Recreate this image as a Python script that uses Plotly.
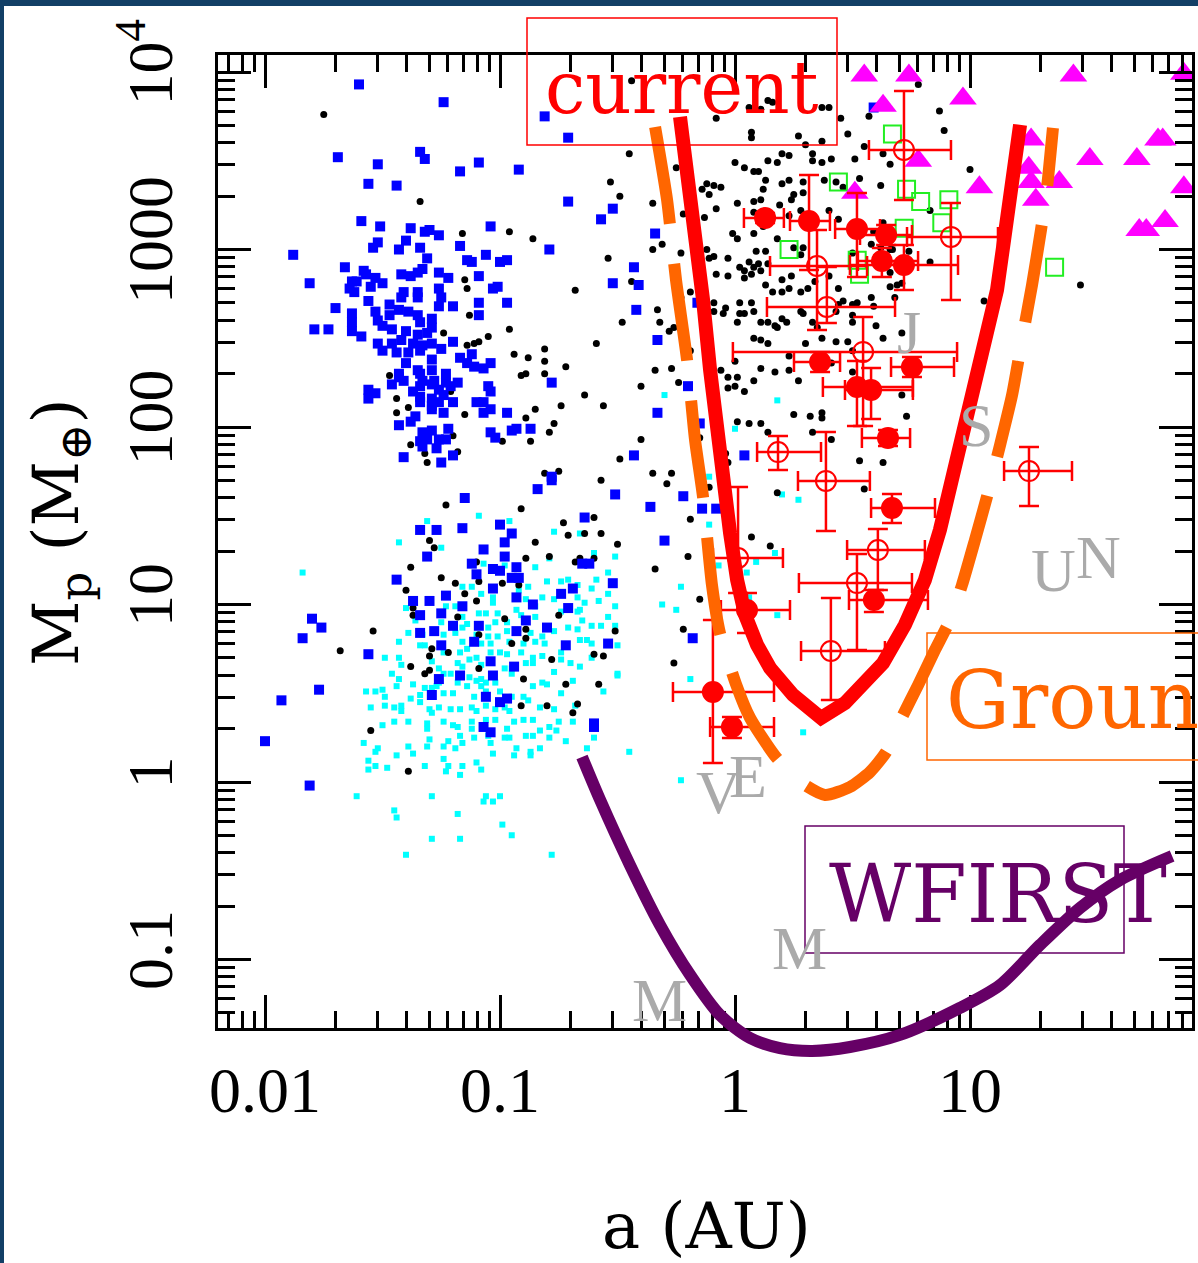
import numpy as np
import plotly.graph_objects as go

W, H = 1198, 1263

# ---------------- data ----------------
# all scatter values are (log10 a [AU], log10 Mp [M_earth])
rv_planets = [
    (-1.75, 3.76), (-1.34, 3.27), (-1.16, 3.09), (-0.96, 3.10), (-0.86, 3.06), (-1.15, 2.83), (-1.14, 2.78),
    (-1.13, 2.63), (-0.96, 2.55), (-1.24, 2.53), (-1.14, 2.46), (-1.11, 2.47), (-1.09, 2.48), (-1.05, 2.51),
    (-0.94, 2.41), (-0.88, 2.39), (-0.81, 2.44), (-0.81, 2.37), (-0.72, 2.34), (-0.91, 2.29), (-0.89, 2.30),
    (-0.81, 2.30), (-1.47, 2.29), (-1.21, 2.20), (-1.44, 2.16), (-1.39, 2.11), (-1.44, 2.08), (-1.15, 2.07),
    (-0.85, 2.10), (-0.89, 2.05), (-0.74, 2.12), (-0.77, 2.02), (-0.79, 1.97), (-1.20, 1.95), (-0.99, 1.92),
    (-0.87, 1.92), (-1.38, 1.90), (-1.32, 1.85), (-1.18, 1.86), (-1.31, 1.80), (-0.81, 1.74), (-0.75, 1.75),
    (-1.23, 1.56), (-0.91, 1.54), (-0.73, 1.46), (-0.60, 1.49), (-0.64, 1.40), (-0.57, 1.40), (-0.71, 1.39),
    (-0.50, 1.34), (-1.30, 1.36), (-1.28, 1.32), (-0.85, 1.35), (-1.38, 1.21), (-1.25, 1.15), (-1.19, 1.12),
    (-1.09, 1.13), (-0.92, 1.11), (-0.79, 1.27), (-0.66, 1.26), (-0.60, 1.26), (-0.68, 1.24), (-0.89, 1.26),
    (-1.10, 1.24), (-1.40, 1.08), (-1.15, 1.06), (-1.10, 1.02), (-0.99, 1.12), (-1.37, 0.98), (-1.37, 0.94),
    (-1.18, 0.93), (-0.98, 0.92), (-0.89, 0.86), (-0.75, 0.94), (-0.51, 0.85), (-1.54, 0.85), (-1.29, 0.75),
    (-1.30, 0.71), (-1.22, 0.73), (-1.09, 0.83), (-0.95, 0.78), (-0.89, 0.81), (-0.78, 0.69), (-0.60, 0.72),
    (-0.56, 0.71), (-1.38, 0.65), (-1.32, 0.61), (-1.30, 0.63), (-1.09, 0.64), (-0.90, 0.58), (-0.72, 0.55),
    (-0.58, 0.55), (-1.68, 0.74), (-0.91, 0.43), (-0.80, 0.43), (-0.67, 0.44), (-0.69, 0.39), (-1.55, 0.29),
    (-1.39, 0.06),
    (-0.44, 3.95), (0.14, 3.84), (0.16, 3.83), (0.11, 3.79), (0.06, 3.80), (0.37, 3.80), (0.40, 3.80),
    (-0.08, 3.74), (0.07, 3.66), (0.07, 3.63), (0.27, 3.64), (0.30, 3.59), (0.37, 3.61), (0.45, 3.74),
    (0.48, 3.65), (0.57, 3.75), (0.55, 3.58), (0.63, 3.54), (0.66, 3.48), (0.51, 3.51), (0.33, 3.54),
    (0.33, 3.50), (0.37, 3.49), (0.41, 3.51), (0.23, 3.53), (0.20, 3.54), (0.18, 3.49), (0.14, 3.50),
    (0.00, 3.49), (0.04, 3.46), (0.08, 3.44), (0.10, 3.44), (0.13, 3.39), (0.12, 3.34), (0.20, 3.37),
    (0.23, 3.39), (0.29, 3.38), (0.29, 3.32), (0.38, 3.39), (0.43, 3.38), (0.46, 3.35), (0.53, 3.40),
    (0.62, 3.36), (-0.45, 3.54), (-0.25, 3.46), (-0.53, 3.38), (-0.49, 3.30), (-0.12, 3.37), (-0.14, 3.34),
    (-0.09, 3.36), (-0.06, 3.35), (-0.11, 3.31),
    (-0.35, 3.26), (-0.22, 3.20), (-0.31, 3.03), (-0.35, 3.00), (-0.23, 2.98), (-0.54, 2.95), (-0.44, 2.82),
    (-0.33, 2.66), (-0.48, 2.59), (-0.08, 3.23), (-0.13, 3.18), (0.11, 3.28), (0.08, 3.27), (0.25, 3.31),
    (0.24, 3.28), (0.28, 3.22), (0.01, 3.26), (0.08, 3.21), (0.19, 3.25), (0.23, 3.19), (0.40, 3.22),
    (0.44, 3.17), (0.63, 3.15), (-0.01, 3.09), (0.01, 3.06), (0.08, 3.09), (0.12, 3.13), (0.18, 3.06),
    (0.25, 3.01), (0.29, 3.01), (0.28, 2.97), (0.09, 2.99), (0.13, 2.99), (-0.12, 3.00), (-0.09, 2.96),
    (-0.11, 2.95), (-0.08, 2.86), (-0.03, 2.95), (-0.03, 2.85), (0.02, 2.90), (0.04, 2.88), (0.06, 2.93),
    (0.08, 2.90), (0.07, 2.86), (0.04, 2.84), (0.10, 2.92), (0.11, 2.88), (0.14, 2.92), (0.13, 2.80),
    (0.16, 2.76), (0.20, 2.76), (0.23, 2.78), (0.20, 2.83), (0.24, 2.85), (0.28, 2.76), (0.31, 2.78),
    (0.34, 2.82), (0.40, 2.85), (0.44, 2.78), (0.46, 2.71), (0.50, 2.69), (0.52, 2.70), (0.58, 2.73),
    (0.59, 2.68), (0.66, 3.00), (0.62, 3.01), (0.66, 2.79), (0.69, 2.80), (0.68, 2.73), (-0.19, 2.76),
    (-0.09, 2.70), (-0.09, 2.65), (-0.04, 2.67), (0.02, 2.70), (0.07, 2.70), (0.04, 2.64), (0.08, 2.65),
    (0.11, 2.59), (0.14, 2.59), (0.18, 2.56), (0.22, 2.59), (0.28, 2.65), (0.33, 2.59), (-0.32, 2.59),
    (-0.26, 2.56), (-0.23, 2.73), (-0.05, 2.64), (0.44, 2.69), (0.50, 2.59), (0.60, 2.57),
    (0.78, 3.93), (0.87, 3.78), (0.89, 3.67), (1.00, 3.45), (0.83, 3.22), (0.59, 3.10), (0.58, 3.03),
    (0.67, 3.00), (0.74, 2.99), (0.50, 2.98), (0.83, 2.93), (0.66, 2.87), (0.71, 2.81), (1.47, 2.80),
    (1.06, 2.71),
    (-0.28, 2.54), (-0.27, 2.33), (-0.34, 2.32), (-0.24, 2.25), (-0.19, 2.43), (-0.15, 1.94), (-0.35, 1.74),
    (-0.27, 1.74), (-0.29, 1.68), (-0.11, 1.66), (-0.03, 1.80), (-0.04, 1.85), (0.18, 1.63), (-0.20, 1.27),
    (-0.34, 1.20), (-0.22, 0.86), (-0.26, 0.67), (0.07, 1.38), (0.15, 1.33), (0.01, 2.03), (0.06, 2.02),
    (0.11, 2.02), (0.14, 1.97), (0.25, 2.07), (0.32, 2.06), (0.37, 2.08), (0.37, 2.05), (0.33, 1.97),
    (0.41, 1.93), (0.53, 1.81), (0.63, 1.80), (0.55, 1.65), (0.73, 2.06), (0.71, 2.53), (0.63, 2.50),
    (0.50, 2.63), (0.43, 2.65), (0.29, 2.64), (0.35, 2.56), (0.14, 2.47), (0.20, 2.61), (0.11, 2.49),
    (0.08, 2.50), (0.17, 2.57), (0.02, 2.64), (0.01, 2.59), (-0.06, 2.32), (0.01, 2.28), (-0.03, 2.28),
    (0.00, 2.37), (-0.03, 2.22), (0.00, 2.23), (0.04, 2.20), (0.08, 2.26), (0.11, 2.33), (0.17, 2.31),
    (0.23, 2.32), (0.27, 2.26), (0.23, 2.40), (0.30, 2.47), (0.37, 2.50), (0.43, 2.48), (0.48, 2.48),
    (0.50, 2.31), (0.50, 2.43), (0.41, 2.36), (0.36, 2.39), (0.71, 2.18),
    (-0.68, 2.77), (-0.59, 2.47), (-0.64, 2.18), (-0.56, 2.12), (-0.40, 2.23), (-0.49, 1.82), (-0.40, 1.93),
    (-0.57, 1.70), (-0.15, 1.03), (-0.19, 1.48),
]

transit_planets = [  # blue squares
    (-1.60, 3.93), (-1.69, 3.52), (-1.52, 3.48), (-1.32, 3.51), (-1.34, 3.55), (-1.09, 3.49), (-1.17, 3.44),
    (-0.92, 3.45), (-1.24, 3.83), (-0.81, 3.75), (-0.71, 3.63), (-1.56, 3.37), (-1.44, 3.36), (-0.71, 3.27),
    (-1.59, 3.16), (-1.51, 3.13), (-1.38, 3.12), (-1.32, 3.10), (-1.30, 3.11), (-1.26, 3.08), (-1.04, 3.13),
    (-1.40, 3.05), (-1.52, 3.04), (-1.54, 3.01), (-1.43, 3.00), (-1.34, 3.01), (-1.17, 3.02), (-0.79, 3.00),
    (-1.88, 2.97), (-1.31, 2.95), (-1.14, 2.94), (-1.12, 2.93), (-1.06, 2.97), (-1.00, 2.93), (-0.97, 2.94),
    (-1.66, 2.90), (-1.58, 2.88), (-1.57, 2.86), (-1.42, 2.86), (-1.38, 2.85), (-1.35, 2.87), (-1.33, 2.89),
    (-1.26, 2.87), (-1.22, 2.84), (-1.09, 2.85), (-1.81, 2.81), (-1.63, 2.82), (-1.61, 2.82), (-1.53, 2.84),
    (-1.50, 2.81), (-1.55, 2.79), (-1.64, 2.78), (-1.62, 2.76), (-1.41, 2.76), (-1.35, 2.76), (-1.26, 2.78),
    (-1.42, 2.73), (-1.35, 2.73), (-1.25, 2.73), (-1.03, 2.78), (-1.01, 2.79), (-1.56, 2.71), (-1.47, 2.69),
    (-1.70, 2.67), (-1.53, 2.65), (-1.43, 2.66), (-1.39, 2.65), (-1.26, 2.68), (-1.20, 2.68), (-1.09, 2.70),
    (-0.97, 2.70), (-1.63, 2.64), (-1.47, 2.63), (-1.35, 2.63), (-1.29, 2.61), (-1.09, 2.63), (-1.63, 2.59),
    (-1.52, 2.60), (-1.34, 2.59), (-1.79, 2.55), (-1.73, 2.55), (-1.63, 2.54), (-1.59, 2.51), (-1.50, 2.57),
    (-1.46, 2.55), (-1.40, 2.54), (-1.35, 2.52), (-1.29, 2.56), (-1.31, 2.53), (-1.52, 2.47), (-1.50, 2.43),
    (-1.46, 2.47), (-1.42, 2.49), (-1.37, 2.47), (-1.33, 2.46), (-1.29, 2.47), (-1.25, 2.44), (-1.20, 2.48),
    (-1.44, 2.42), (-1.39, 2.42), (-1.34, 2.43), (-1.17, 2.39), (-1.14, 2.36), (-1.12, 2.41), (-1.11, 2.34),
    (-1.07, 2.33), (-1.04, 2.36), (-1.40, 2.36), (-1.35, 2.32), (-1.29, 2.38), (-1.43, 2.30), (-1.34, 2.30),
    (-1.29, 2.32), (-1.23, 2.30), (-1.43, 2.28), (-1.41, 2.26), (-1.33, 2.26), (-1.28, 2.26), (-1.23, 2.25),
    (-1.18, 2.25), (-0.78, 2.25), (-1.46, 2.24), (-1.34, 2.23), (-1.29, 2.24), (-1.26, 2.21), (-1.21, 2.23),
    (-1.56, 2.21), (-1.56, 2.16), (-1.53, 2.19), (-1.37, 2.20), (-1.34, 2.17), (-1.29, 2.16), (-1.24, 2.18),
    (-1.05, 2.23), (-1.04, 2.20), (-1.10, 2.14), (-1.07, 2.14), (-1.34, 2.14), (-1.29, 2.12), (-1.26, 2.14),
    (-1.20, 2.14), (-1.04, 2.10), (-1.29, 2.10), (-1.24, 2.08), (-1.07, 2.08), (-0.97, 2.08), (-1.36, 2.06),
    (-1.38, 2.03), (-1.43, 2.01), (-1.33, 1.97), (-1.29, 1.98), (-1.22, 1.99), (-0.87, 1.99), (-0.93, 1.99),
    (-0.95, 1.98), (-1.04, 1.97), (-1.02, 1.94), (-1.34, 1.92), (-1.31, 1.93), (-1.26, 1.93), (-1.23, 1.93),
    (-1.33, 1.89), (-1.27, 1.88), (-1.41, 1.83), (-1.25, 1.80), (-1.20, 1.84), (-0.78, 1.72),
    (-0.52, 3.23), (-0.57, 3.17), (-0.34, 3.09), (-0.43, 2.90), (-0.52, 2.81), (-0.41, 2.80), (-0.42, 2.66),
    (-0.16, 2.70), (0.59, 3.80), (-0.33, 2.49), (-0.20, 2.23), (-0.33, 2.08), (-0.15, 2.02), (0.04, 1.84),
    (-0.22, 1.61), (-0.14, 1.54), (-0.08, 1.54), (-0.36, 1.55), (-0.30, 1.36), (-0.18, 0.81), (-0.43, 1.84),
    (-1.15, 1.60), (-0.84, 1.65), (-0.78, 1.70), (-0.51, 1.62), (-1.34, 1.42), (-1.27, 1.42), (-1.16, 1.43),
    (-1.00, 1.45), (-0.95, 1.40), (-0.98, 1.35), (-1.07, 1.31), (-1.31, 1.27), (-0.98, 1.27), (-1.12, 1.23),
    (-1.03, 1.20), (-1.00, 1.19), (-1.10, 1.17), (-0.93, 1.21), (-0.95, 1.15), (-0.92, 1.15), (-0.64, 1.49),
    (-0.62, 1.23), (-0.65, 1.23), (-1.44, 1.14), (-0.52, 1.12), (-1.03, 1.09), (-1.23, 1.05), (-0.69, 1.09),
    (-0.74, 1.06), (-1.37, 1.02), (-1.30, 1.02), (-0.93, 1.04), (-1.16, 0.99), (-0.86, 1.00), (-0.71, 0.98),
    (-1.34, 0.94), (-1.25, 0.95), (-1.20, 0.88), (-1.09, 0.88), (-0.89, 0.91), (-0.80, 0.87), (-1.34, 0.84),
    (-1.28, 0.85), (-0.93, 0.85), (-1.11, 0.79), (-0.72, 0.77), (-0.54, 0.78), (-1.25, 0.77), (-1.56, 0.72),
    (-1.04, 0.68), (-0.94, 0.65), (-1.17, 0.60), (-1.03, 0.60), (-1.26, 0.58), (-1.29, 0.49), (-1.06, 0.48),
    (-1.00, 0.45), (-0.97, 0.47), (-1.80, 0.92), (-1.76, 0.87), (-1.84, 0.81), (-1.77, 0.52), (-1.93, 0.46),
    (-2.00, 0.23), (-1.81, -0.02), (-0.60, 0.33), (-0.60, 0.31), (-1.07, 0.31), (-1.04, 0.28),
]

kepler_planets = [  # cyan squares
    (-1.09, 1.50), (-0.96, 1.47), (-1.31, 1.47), (-1.43, 1.35), (-1.25, 1.32), (-0.77, 1.41), (-0.66, 1.40),
    (-0.60, 1.29), (-0.51, 1.27), (-0.79, 1.26), (-0.85, 1.21), (-1.07, 1.23), (-0.98, 1.22), (-1.16, 1.10),
    (-1.12, 1.10), (-1.08, 1.06), (-1.03, 1.04), (-0.92, 1.08), (-0.88, 1.10), (-0.80, 1.13), (-0.74, 1.13),
    (-0.71, 1.14), (-0.67, 1.11), (-0.61, 1.09), (-0.59, 1.14), (-0.54, 1.18), (-0.82, 1.04), (-0.77, 1.03),
    (-0.67, 1.04), (-0.64, 1.01), (-0.58, 1.02), (-0.54, 1.06), (-1.40, 0.98), (-1.23, 0.99), (-1.19, 0.99),
    (-1.03, 1.01), (-0.89, 1.03), (-0.93, 0.97), (-0.85, 0.99), (-0.66, 0.97), (-0.51, 0.99), (-1.16, 0.93),
    (-1.09, 0.95), (-1.06, 0.95), (-1.01, 0.95), (-0.91, 0.94), (-0.74, 0.96), (-0.67, 0.96), (-0.54, 0.93),
    (-1.36, 0.91), (-1.25, 0.90), (-1.14, 0.89), (-1.05, 0.87), (-1.02, 0.90), (-0.97, 0.90), (-0.85, 0.93),
    (-0.65, 0.91), (-0.61, 0.88), (-0.57, 0.88), (-0.51, 0.88), (-1.39, 0.84), (-1.33, 0.83), (-1.19, 0.84),
    (-1.16, 0.87), (-1.10, 0.83), (-1.05, 0.82), (-1.01, 0.82), (-0.97, 0.85), (-0.87, 0.84), (-0.82, 0.82),
    (-0.77, 0.85), (-0.71, 0.87), (-0.67, 0.86), (-0.63, 0.80), (-0.61, 0.78), (-0.50, 0.77), (-1.43, 0.79),
    (-1.34, 0.77), (-1.32, 0.77), (-1.24, 0.83), (-1.16, 0.79), (-1.14, 0.75), (-1.08, 0.78), (-1.04, 0.78),
    (-0.96, 0.79), (-0.90, 0.78), (-0.85, 0.79), (-0.81, 0.78), (-0.74, 0.73), (-0.66, 0.80), (-1.49, 0.70),
    (-1.43, 0.70), (-1.29, 0.68), (-1.24, 0.73), (-1.17, 0.73), (-1.13, 0.69), (-1.10, 0.70), (-1.04, 0.73),
    (-1.00, 0.73), (-0.97, 0.72), (-0.91, 0.73), (-0.86, 0.70), (-0.82, 0.71), (-0.74, 0.69), (-0.70, 0.67),
    (-0.66, 0.65), (-0.61, 0.70), (-1.42, 0.66), (-1.26, 0.64), (-1.18, 0.67), (-1.16, 0.65), (-1.08, 0.66),
    (-0.98, 0.64), (-0.89, 0.67), (-0.86, 0.67), (-0.77, 0.62), (-1.46, 0.61), (-1.43, 0.58), (-1.27, 0.54),
    (-1.24, 0.61), (-1.21, 0.61), (-1.18, 0.56), (-1.13, 0.59), (-1.10, 0.57), (-1.08, 0.58), (-1.06, 0.56),
    (-1.02, 0.56), (-0.95, 0.61), (-0.95, 0.64), (-0.86, 0.54), (-0.82, 0.56), (-0.80, 0.55), (-0.69, 0.57),
    (-0.50, 0.61), (-0.50, 0.60), (-1.57, 0.51), (-1.53, 0.51), (-1.50, 0.52), (-1.49, 0.48), (-1.44, 0.54),
    (-1.38, 0.47), (-1.37, 0.55), (-1.34, 0.49), (-1.32, 0.53), (-1.29, 0.53), (-1.26, 0.56), (-1.24, 0.50),
    (-1.20, 0.50), (-1.14, 0.54), (-1.11, 0.48), (-1.08, 0.54), (-1.06, 0.51), (-1.00, 0.51), (-0.95, 0.48),
    (-0.90, 0.48), (-0.74, 0.50), (-0.56, 0.51), (-1.55, 0.42), (-1.49, 0.43), (-1.45, 0.42), (-1.42, 0.43),
    (-1.42, 0.40), (-1.34, 0.45), (-1.30, 0.41), (-1.29, 0.39), (-1.26, 0.42), (-1.21, 0.41), (-1.17, 0.41),
    (-1.12, 0.42), (-1.10, 0.40), (-1.06, 0.43), (-1.02, 0.41), (-0.98, 0.42), (-0.96, 0.40), (-0.88, 0.46),
    (-0.83, 0.42), (-0.77, 0.41), (-0.68, 0.43), (-1.50, 0.32), (-1.45, 0.34), (-1.39, 0.34), (-1.31, 0.33),
    (-1.31, 0.30), (-1.24, 0.34), (-1.20, 0.32), (-1.18, 0.31), (-1.12, 0.34), (-1.12, 0.30), (-1.06, 0.35),
    (-1.02, 0.35), (-0.97, 0.30), (-0.94, 0.34), (-0.90, 0.35), (-0.86, 0.35), (-0.83, 0.29), (-0.79, 0.31),
    (-0.76, 0.29), (-0.75, 0.34), (-0.69, 0.34), (-1.58, 0.22), (-1.52, 0.19), (-1.39, 0.20), (-1.30, 0.24),
    (-1.31, 0.20), (-1.24, 0.20), (-1.22, 0.23), (-1.19, 0.19), (-1.16, 0.22), (-1.17, 0.26), (-1.11, 0.25),
    (-1.05, 0.26), (-1.04, 0.22), (-0.98, 0.25), (-0.96, 0.25), (-0.89, 0.26), (-0.86, 0.26), (-0.79, 0.25),
    (-0.72, 0.23), (-0.60, 0.25), (-1.53, 0.17), (-1.56, 0.12), (-1.56, 0.07), (-1.53, 0.09), (-1.48, 0.08),
    (-1.44, 0.15), (-1.37, 0.16), (-1.32, 0.09), (-1.24, 0.13), (-1.22, 0.09), (-1.23, 0.06), (-1.17, 0.04),
    (-1.16, 0.09), (-1.10, 0.11), (-1.08, 0.07), (-1.03, 0.16), (-0.94, 0.15), (-0.93, 0.19), (-0.87, 0.15),
    (-0.87, 0.17), (-0.83, 0.19), (-0.63, 0.19), (-1.84, 1.18), (-1.61, -0.08), (-1.29, -0.08), (-1.06, -0.08),
    (-1.00, -0.08), (-1.07, -0.11), (-1.03, -0.11), (-1.45, -0.16), (-1.44, -0.20), (-1.18, -0.18),
    (-0.99, -0.24), (-1.29, -0.32), (-1.17, -0.32), (-0.95, -0.30), (-1.40, -0.41), (-0.78, -0.41),
    (-0.30, 2.18), (0.18, 2.15), (0.00, 1.99), (-0.11, 1.72), (-0.14, 1.71), (0.20, 1.62), (0.27, 1.59),
    (-0.11, 1.45), (0.17, 1.29), (-0.07, 1.22), (0.09, 1.24), (0.05, 1.18), (-0.23, 1.10), (-0.31, 1.00),
    (-0.25, 0.97), (0.06, 1.04), (0.18, 0.94), (-0.19, 0.58), (0.29, 0.28), (-0.23, 0.01), (-0.45, 0.17),
]

imaging_planets = [  # green open squares
    (0.67, 3.65), (0.73, 3.34), (0.79, 3.27), (0.91, 3.28), (0.72, 3.12), (0.88, 3.15), (1.36, 2.90),
    (0.44, 3.38), (0.23, 3.00), (0.52, 2.94), (0.53, 2.86),
]

wide_companions = [  # magenta triangles
    (0.55, 3.98), (0.74, 3.98), (0.63, 3.81), (0.97, 3.85), (0.78, 3.50), (1.04, 3.35), (0.51, 3.32),
    (1.44, 3.98), (1.91, 3.99), (1.26, 3.62), (1.25, 3.46), (1.26, 3.38), (1.28, 3.28), (1.38, 3.38),
    (1.51, 3.51), (1.71, 3.51), (1.80, 3.62), (1.82, 3.62), (1.91, 3.35), (1.83, 3.16), (1.72, 3.11),
    (1.75, 3.11),
]

# microlensing planets: (log a, log a_lo, log a_hi, log M, log M_lo, log M_hi)
microlens_filled = [
    (0.128, 0.038, 0.208, 3.178, 3.149, 3.206), (0.315, 0.234, 0.404, 3.161, 2.885, 3.420),
    (0.519, 0.426, 0.617, 3.116, 2.845, 3.318), (0.643, 0.532, 0.753, 3.082, 3.025, 3.138),
    (0.625, 0.523, 0.779, 2.935, 2.845, 3.009), (0.719, 0.489, 0.949, 2.913, 2.772, 3.025),
    (0.362, 0.251, 0.447, 2.366, 2.310, 2.423), (0.753, 0.664, 0.932, 2.338, 2.282, 2.394),
    (0.519, 0.374, 0.757, 2.225, 2.006, 2.372), (0.579, 0.468, 0.757, 2.209, 2.045, 2.332),
    (0.651, 0.540, 0.745, 1.938, 1.893, 1.983), (0.668, 0.579, 0.851, 1.544, 1.459, 1.623),
    (0.591, 0.485, 0.821, 1.025, 0.958, 1.082), (0.051, -0.060, 0.234, 0.969, 0.839, 1.065),
    (-0.094, -0.264, 0.166, 0.507, 0.107, 0.913), (-0.013, -0.106, 0.166, 0.310, 0.248, 0.366),
]
microlens_open = [
    (0.719, 0.570, 0.919, 3.561, 3.279, 3.893), (0.919, 0.732, 1.119, 3.071, 2.716, 3.262),
    (0.349, 0.149, 0.562, 2.907, 2.547, 3.110), (0.391, 0.136, 0.681, 2.676, 2.586, 2.902),
    (0.545, -0.009, 0.945, 2.423, 2.006, 2.620), (0.183, 0.094, 0.366, 1.859, 1.758, 1.949),
    (0.387, 0.268, 0.574, 1.696, 1.414, 1.972), (0.608, 0.477, 0.808, 1.307, 1.082, 1.425),
    (0.519, 0.272, 0.753, 1.121, 0.744, 1.285), (0.408, 0.281, 0.638, 0.738, 0.462, 1.037),
    (0.013, -0.094, 0.204, 1.262, 1.065, 1.662), (1.251, 1.145, 1.434, 1.752, 1.555, 1.887),
]

# sensitivity curves (log10 a, log10 M)
current_curve = [
    (-0.234, 3.747), (-0.191, 3.335), (-0.162, 2.997), (-0.136, 2.716), (-0.106, 2.321), (-0.077, 1.966),
    (-0.051, 1.701), (-0.021, 1.403), (0.009, 1.138), (0.043, 0.941), (0.094, 0.772), (0.149, 0.642),
    (0.247, 0.490), (0.311, 0.417), (0.366, 0.361), (0.468, 0.445), (0.562, 0.575), (0.630, 0.670),
    (0.723, 0.885), (0.808, 1.138), (0.872, 1.420), (0.936, 1.758), (1.000, 2.096), (1.064, 2.434),
    (1.115, 2.772), (1.145, 3.054), (1.179, 3.392), (1.213, 3.702),
]
ground_curve = [
    (-0.340, 3.690), (-0.289, 3.279), (-0.251, 2.828), (-0.204, 2.378), (-0.170, 1.927), (-0.136, 1.606),
    (-0.098, 1.110), (-0.064, 0.839), (0.004, 0.552), (0.064, 0.361), (0.174, 0.141), (0.285, -0.006),
    (0.383, -0.073), (0.489, -0.028), (0.574, 0.056), (0.643, 0.169), (0.711, 0.366), (0.779, 0.546),
    (0.851, 0.744), (0.915, 0.913), (0.966, 1.110), (1.021, 1.363), (1.072, 1.606), (1.128, 1.899),
    (1.179, 2.180), (1.221, 2.490), (1.264, 2.800), (1.302, 3.110), (1.328, 3.352), (1.353, 3.685),
]
wfirst_curve = [
    (-0.651, 0.141), (-0.574, -0.101), (-0.447, -0.468), (-0.319, -0.806), (-0.191, -1.087),
    (-0.064, -1.313), (0.064, -1.442), (0.191, -1.499), (0.328, -1.515), (0.489, -1.493),
    (0.702, -1.425), (0.957, -1.273), (1.128, -1.144), (1.298, -0.918), (1.468, -0.710),
    (1.638, -0.552), (1.860, -0.417),
]

# solar-system planets
ss_names = ["M", "V", "E", "M", "J", "S", "U", "N"]
ss_a = [0.387, 0.723, 1.0, 1.524, 5.20, 9.54, 19.2, 30.1]
ss_m = [0.055, 0.815, 1.0, 0.107, 317.8, 95.2, 14.5, 17.1]

x_tick_vals = [0.01, 0.1, 1, 10]
x_tick_text = ["0.01", "0.1", "1", "10"]
y_tick_vals = [0.1, 1, 10, 100, 1000, 10000]
y_tick_text = ["0.1", "1", "10", "100", "1000", "10<sup>4</sup>"]

# ---------------- figure ----------------
RED, ORANGE, PURPLE = "#ff0000", "#ff6600", "#660066"
PL, PR, PT, PB = 218, 1192, 55, 1028          # frame in pixels
XR = [-2.2, 1.94468]
YR = [-1.38592, 4.09577]
XR_FULL = [-3.12766, 1.97021]
YR_FULL = [-2.70986, 4.40563]


def unpack(pts):
    arr = np.array(pts, dtype=float)
    return 10 ** arr[:, 0], 10 ** arr[:, 1]


def px(xp):
    return xp / W


def py(yp):
    return 1 - yp / H


fig = go.Figure()

a, m = unpack(kepler_planets)
fig.add_trace(go.Scatter(x=a, y=m, mode="markers", showlegend=False,
                         marker=dict(symbol="square", size=6, color="#00ffff", line=dict(width=0))))
a, m = unpack(rv_planets)
fig.add_trace(go.Scatter(x=a, y=m, mode="markers", showlegend=False,
                         marker=dict(symbol="circle", size=7, color="black", line=dict(width=0))))
a, m = unpack(transit_planets)
fig.add_trace(go.Scatter(x=a, y=m, mode="markers", showlegend=False,
                         marker=dict(symbol="square", size=10, color="#0000ff", line=dict(width=0))))
a, m = unpack(imaging_planets)
fig.add_trace(go.Scatter(x=a, y=m, mode="markers", showlegend=False,
                         marker=dict(symbol="square-open", size=17, color="#22ee22", line=dict(width=2))))
a, m = unpack(wide_companions)
fig.add_trace(go.Scatter(x=a, y=m, mode="markers", showlegend=False,
                         marker=dict(symbol="triangle-up", size=24, color="#ff00ff", line=dict(width=0))))

for pts, sym, size in ((microlens_open, "circle-open", 20), (microlens_filled, "circle", 20)):
    arr = 10 ** np.array(pts, dtype=float)
    a, alo, ahi, m, mlo, mhi = arr.T
    fig.add_trace(go.Scatter(
        x=a, y=m, mode="markers", showlegend=False,
        error_x=dict(type="data", symmetric=False, array=ahi - a, arrayminus=a - alo,
                     color=RED, thickness=2.5, width=10),
        error_y=dict(type="data", symmetric=False, array=mhi - m, arrayminus=m - mlo,
                     color=RED, thickness=2.5, width=10),
        marker=dict(symbol=sym, size=size, color=RED, line=dict(width=2, color=RED))))

a, m = unpack(ground_curve)
fig.add_trace(go.Scatter(x=a, y=m, mode="lines", showlegend=False,
                         line=dict(color=ORANGE, width=12, dash="98px,40px", shape="spline", smoothing=0.6)))
a, m = unpack(current_curve)
fig.add_trace(go.Scatter(x=a, y=m, mode="lines", showlegend=False,
                         line=dict(color=RED, width=14)))
a, m = unpack(wfirst_curve)
fig.add_trace(go.Scatter(x=a, y=m, mode="lines", showlegend=False, xaxis="x2", yaxis="y2",
                         line=dict(color=PURPLE, width=12, shape="spline", smoothing=0.8)))

minor_x = [k * 10.0 ** e for e in range(-3, 2) for k in range(2, 10)]
minor_y = [k * 10.0 ** e for e in range(-2, 4) for k in range(2, 10)]

axis_common = dict(type="log", showline=True, linecolor="black", linewidth=2.5, mirror="ticks",
                   ticks="inside", ticklen=33, tickwidth=2.5, tickcolor="black",
                   showgrid=False, zeroline=False, automargin=False,
                   tickfont=dict(family="Liberation Serif", size=64, color="black"))

fig.update_layout(
    width=W, height=H,
    margin=dict(l=0, r=0, t=0, b=0),
    paper_bgcolor="white", plot_bgcolor="rgba(0,0,0,0)",
    showlegend=False,
    xaxis=dict(**axis_common, range=XR, domain=[px(PL), px(PR)], anchor="y",
               tickmode="array", tickvals=x_tick_vals, ticktext=x_tick_text, ticklabelstandoff=4,
               minor=dict(ticks="inside", ticklen=17, tickwidth=2.5, tickcolor="black",
                          tickvals=minor_x, showgrid=False)),
    yaxis=dict(**axis_common, range=YR, domain=[py(PB), py(PT)], anchor="x",
               tickmode="array", tickvals=y_tick_vals, ticktext=y_tick_text, tickangle=-90,
               ticklabelstandoff=18,
               minor=dict(ticks="inside", ticklen=17, tickwidth=2.5, tickcolor="black",
                          tickvals=minor_y, showgrid=False)),
    xaxis2=dict(type="log", range=XR_FULL, domain=[0, 1], anchor="y2", visible=False),
    yaxis2=dict(type="log", range=YR_FULL, domain=[0, 1], anchor="x2", visible=False),
)

shapes = [
    dict(type="rect", xref="paper", yref="paper", x0=0, x1=1, y0=py(6), y1=1,
         fillcolor="#123f66", line=dict(width=0)),
    dict(type="rect", xref="paper", yref="paper", x0=0, x1=px(4), y0=0, y1=1,
         fillcolor="#123f66", line=dict(width=0)),
    dict(type="rect", xref="paper", yref="paper", x0=px(527), x1=px(837), y0=py(145), y1=py(18),
         line=dict(color=RED, width=1.5)),
    dict(type="rect", xref="paper", yref="paper", x0=px(927), x1=px(1215), y0=py(760), y1=py(633),
         line=dict(color=ORANGE, width=1.5)),
    dict(type="rect", xref="paper", yref="paper", x0=px(805), x1=px(1124), y0=py(953), y1=py(826),
         line=dict(color=PURPLE, width=1.5)),
]
fig.update_layout(shapes=shapes)

ann = [
    dict(text="current", xref="paper", yref="paper", x=px(682), y=py(88), xanchor="center",
         yanchor="middle", showarrow=False, font=dict(family="DejaVu Serif", size=72, color=RED)),
    dict(text="Groun", xref="paper", yref="paper", x=px(944), y=py(700), xanchor="left",
         yanchor="middle", showarrow=False, font=dict(family="DejaVu Serif", size=80, color=ORANGE)),
    dict(text="WFIRST", xref="paper", yref="paper", x=px(998), y=py(894), xanchor="center",
         yanchor="middle", showarrow=False, font=dict(family="DejaVu Serif", size=80, color=PURPLE)),
    dict(text="a (AU)", xref="paper", yref="paper", x=px(706), y=py(1226), xanchor="center",
         yanchor="middle", showarrow=False, font=dict(family="DejaVu Serif", size=64, color="black")),
    dict(text="M<sub>p</sub> (M<sub>⊕</sub>)", xref="paper", yref="paper", x=px(60), y=py(532),
         xanchor="center", yanchor="middle", textangle=-90, showarrow=False,
         font=dict(family="DejaVu Serif", size=64, color="black")),
]
for name, pa, pm in zip(ss_names, ss_a, ss_m):
    ann.append(dict(text=name, xref="x", yref="y", x=np.log10(pa), y=np.log10(pm),
                    xanchor="left", yanchor="middle", xshift=-8, yshift=6, showarrow=False,
                    font=dict(family="Liberation Serif", size=62, color="#aaaaaa")))
fig.update_layout(annotations=ann)

fig.write_html("out.html", config={"displayModeBar": False},
               post_script="document.body.style.margin='0';document.body.style.overflow='hidden';")
